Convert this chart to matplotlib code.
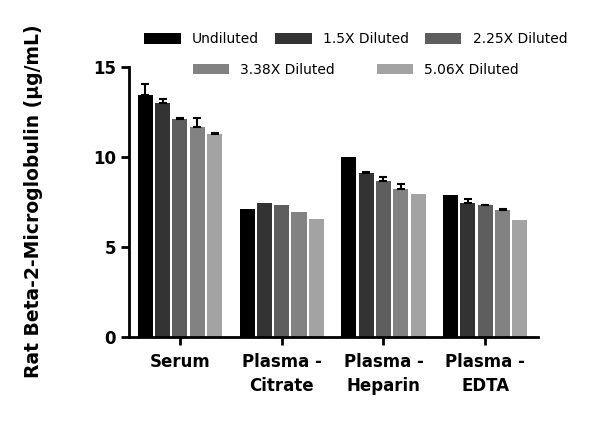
import matplotlib.pyplot as plt
import numpy as np
from matplotlib.patches import Patch


SAMPLES = [
    "Serum",
    "Plasma -\nCitrate",
    "Plasma -\nHeparin",
    "Plasma -\nEDTA",
]

DILUTIONS = [
    "Undiluted",
    "1.5X Diluted",
    "2.25X Diluted",
    "3.38X Diluted",
    "5.06X Diluted",
]

# mean per sample, one list per dilution
UNDILUTED = [13.43, 7.09, 10.00, 7.87]
DILUTED_1_5X = [12.97, 7.44, 9.11, 7.41]
DILUTED_2_25X = [12.11, 7.32, 8.67, 7.30]
DILUTED_3_38X = [11.67, 6.94, 8.22, 7.04]
DILUTED_5_06X = [11.28, 6.54, 7.91, 6.48]

# upper error (SD) per sample, 0 = not visible
ERR_UNDILUTED = [0.61, 0.0, 0.0, 0.0]
ERR_1_5X = [0.23, 0.0, 0.06, 0.26]
ERR_2_25X = [0.06, 0.0, 0.22, 0.03]
ERR_3_38X = [0.50, 0.0, 0.25, 0.03]
ERR_5_06X = [0.03, 0.0, 0.0, 0.0]

COLORS = ["#000000", "#333333", "#5e5e5e", "#828282", "#a3a3a3"]


def main() -> None:
    means = [UNDILUTED, DILUTED_1_5X, DILUTED_2_25X, DILUTED_3_38X, DILUTED_5_06X]
    errors = [ERR_UNDILUTED, ERR_1_5X, ERR_2_25X, ERR_3_38X, ERR_5_06X]

    fig = plt.figure(figsize=(6.0, 4.26), dpi=100)
    ax = fig.add_axes([0.215, 0.2096, 0.682, 0.634])

    x = np.arange(len(SAMPLES))
    step = 0.17
    width = 0.148

    for i, (vals, errs) in enumerate(zip(means, errors)):
        pos = x + (i - 2) * step
        vals = np.array(vals)
        errs = np.array(errs)
        ax.bar(
            pos,
            vals,
            width=width,
            color=COLORS[i],
            edgecolor="none",
            label=DILUTIONS[i],
            zorder=2,
        )
        # only draw the bars that actually show an error
        shown = errs > 0
        ax.errorbar(
            pos[shown],
            vals[shown],
            yerr=[np.zeros(shown.sum()), errs[shown]],
            fmt="none",
            ecolor="black",
            elinewidth=1.5,
            capsize=3,
            capthick=1.5,
            zorder=3,
        )

    ax.set_xlim(-0.5, 3.52)
    ax.set_ylim(0, 15)
    ax.set_yticks([0, 5, 10, 15])
    ax.set_xticks(x)
    ax.set_xticklabels(SAMPLES, fontsize=12, fontweight="bold", linespacing=1.4)
    ax.tick_params(axis="y", labelsize=12, width=2, length=6)
    ax.tick_params(axis="x", width=2, length=6, pad=6)
    for lab in ax.get_yticklabels():
        lab.set_fontweight("bold")

    ax.spines["top"].set_visible(False)
    ax.spines["right"].set_visible(False)
    ax.spines["left"].set_linewidth(2)
    ax.spines["bottom"].set_linewidth(2)

    ax.set_ylabel(
        "Rat Beta-2-Microglobulin (µg/mL)",
        fontsize=13.5,
        fontweight="bold",
        labelpad=36,
    )

    handles = [Patch(facecolor=c, edgecolor="none") for c in COLORS]

    fig.legend(
        handles[:3],
        DILUTIONS[:3],
        loc="center",
        bbox_to_anchor=(0.593, 0.908),
        ncol=3,
        frameon=False,
        fontsize=10,
        handlelength=2.6,
        handleheight=0.8,
        columnspacing=1.2,
    )
    fig.legend(
        handles[3:],
        DILUTIONS[3:],
        loc="center",
        bbox_to_anchor=(0.593, 0.836),
        ncol=2,
        frameon=False,
        fontsize=10,
        handlelength=2.6,
        handleheight=0.8,
        columnspacing=3.0,
    )

    fig.savefig("out.png", dpi=100)
    plt.close(fig)


if __name__ == "__main__":
    main()
